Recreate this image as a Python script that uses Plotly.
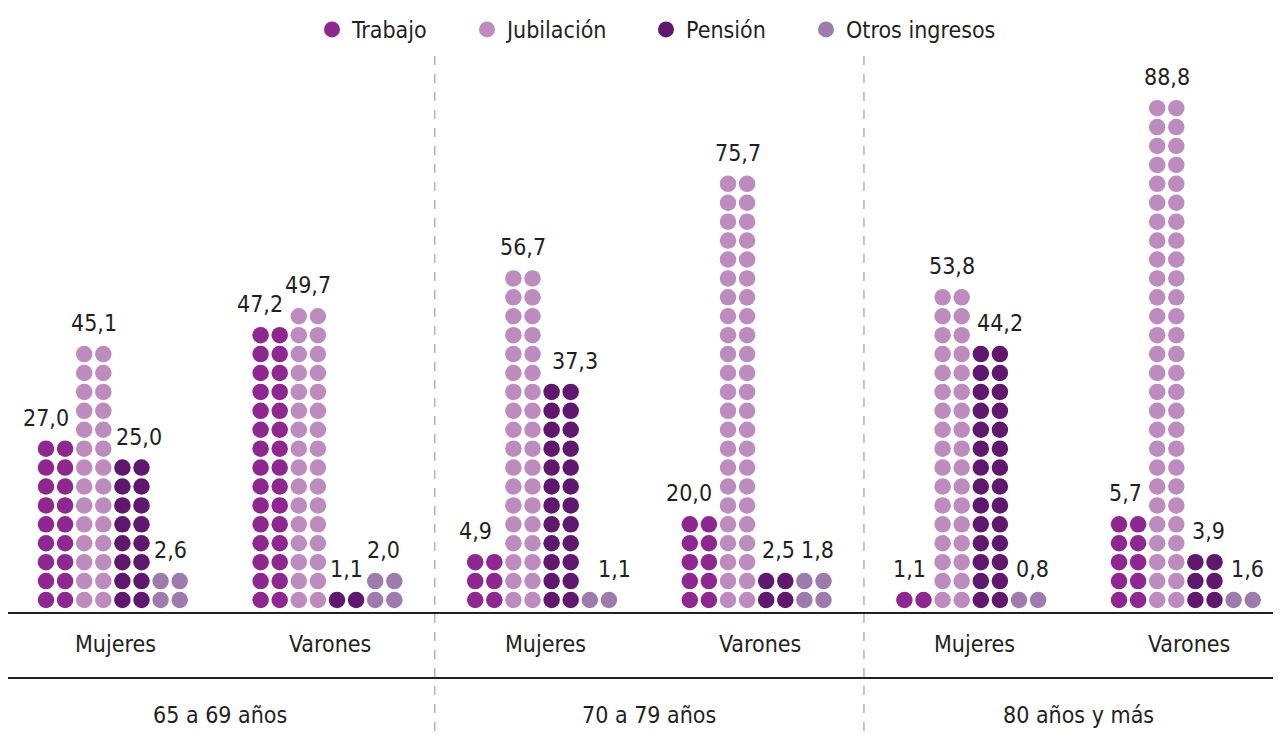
import plotly.graph_objects as go

# ---------------- data ----------------
age_groups = ["65 a 69 años", "70 a 79 años", "80 años y más"]
sexes = ["Mujeres", "Varones"]
series_names = ["Trabajo", "Jubilación", "Pensión", "Otros ingresos"]

# subgroup order: M 65-69, V 65-69, M 70-79, V 70-79, M 80+, V 80+
trabajo = [27.0, 47.2, 4.9, 20.0, 1.1, 5.7]
jubilacion = [45.1, 49.7, 56.7, 75.7, 53.8, 88.8]
pension = [25.0, 1.1, 37.3, 2.5, 44.2, 3.9]
otros = [2.6, 2.0, 1.1, 1.8, 0.8, 1.6]

# number of dot rows drawn for each value
trabajo_rows = [9, 15, 3, 5, 1, 5]
jubilacion_rows = [14, 16, 18, 23, 17, 27]
pension_rows = [8, 1, 12, 2, 14, 3]
otros_rows = [2, 2, 1, 2, 1, 1]

values = [trabajo, jubilacion, pension, otros]
rows = [trabajo_rows, jubilacion_rows, pension_rows, otros_rows]

# ---------------- style ----------------
colors = ["#8E278F", "#BE8BBF", "#5F186E", "#9D7BAD"]
FONT = "Liberation Sans Narrow, Arial Narrow, DejaVu Sans Condensed, sans-serif"
TXT = "#231F20"

OFF = 8                           # page body margin
W, H = 1281 - OFF, 735 - OFF
ML, MR, MT = 0, 0, 0
BASE_PX = 612 - OFF               # baseline pixel (figure coords)
MB = H - BASE_PX
COL_PX = 19.1
ROW_PX = 18.95
GROUP_STEP = 214.6 / COL_PX       # distance between subgroups in column units
X0_PX = 46 - OFF                  # pixel of first dot column
Y0_PX = 600 - OFF                 # pixel of bottom dot row

plot_w = W - ML - MR
plot_h = H - MT - MB
xmin = -(X0_PX - ML) / COL_PX
xmax = xmin + plot_w / COL_PX
ymin = -(BASE_PX - Y0_PX) / ROW_PX
ymax = ymin + plot_h / ROW_PX


def py(screen_y):
    """screen pixel y -> paper y of plot area"""
    return (BASE_PX - (screen_y - OFF)) / plot_h


def px(screen_x):
    return (screen_x - OFF - ML) / plot_w


# label horizontal nudges (px) to mimic the original placement
label_xshift = [
    [-10, -10, -9, -10, -4, -3],
    [0, 0, 0, 0, 0, 0],
    [7, 0, 14, 3, 10, 4],
    [0, -1, 15, 4, 4, 4],
]
legend_text_start = [352, 507, 686, 846]   # screen px where legend text begins

LBL_SIZE = 23

fig = go.Figure()
annotations = []
legend_ids = ["legend", "legend2", "legend3", "legend4"]
for s, name in enumerate(series_names):
    xs, ys = [], []
    for k in range(len(values[s])):
        for r in range(rows[s][k]):
            for c in range(2):
                xs.append(k * GROUP_STEP + 2 * s + c)
                ys.append(r)
        annotations.append(dict(
            x=k * GROUP_STEP + 2 * s + 0.5, y=rows[s][k] - 1,
            text=f"{values[s][k]:.1f}".replace(".", ","),
            showarrow=False, yanchor="bottom", xanchor="center",
            yshift=16, xshift=label_xshift[s][k],
            font=dict(family=FONT, size=LBL_SIZE, color=TXT),
        ))
    fig.add_trace(go.Scatter(
        x=xs, y=ys, mode="markers", name=name, legend=legend_ids[s],
        showlegend=True,
        marker=dict(size=16.5, color=colors[s], line=dict(width=0)),
        hovertemplate=name + "<extra></extra>",
    ))

# category labels
for k in range(6):
    annotations.append(dict(
        x=k * GROUP_STEP + 3.5, y=py(644), yref="paper",
        text=sexes[k % 2], showarrow=False,
        xanchor="center", yanchor="middle", xshift=3,
        font=dict(family=FONT, size=LBL_SIZE, color=TXT),
    ))
for g, lab in enumerate(age_groups):
    annotations.append(dict(
        x=(2 * g + 0.5) * GROUP_STEP + 3.5, y=py(715), yref="paper",
        text=lab, showarrow=False,
        xanchor="center", yanchor="middle",
        font=dict(family=FONT, size=LBL_SIZE, color=TXT),
    ))

shapes = []
# second horizontal rule
shapes.append(dict(type="line", xref="paper", yref="paper", x0=0, x1=1,
                   y0=py(678), y1=py(678),
                   line=dict(color="#231F20", width=2)))
# dashed separators between age groups
for g in (1, 2):
    xsep = ((2 * g - 1) * GROUP_STEP + 7 + 2 * g * GROUP_STEP) / 2
    shapes.append(dict(type="line", xref="x", yref="paper", x0=xsep, x1=xsep,
                       y0=py(55), y1=py(735 + 5),
                       line=dict(color="#B3B3B3", width=1.5, dash="dash")))

legend_common = dict(
    orientation="h", xanchor="left", yanchor="middle", y=py(29),
    font=dict(family=FONT, size=LBL_SIZE, color=TXT),
    itemsizing="trace", bgcolor="rgba(0,0,0,0)", borderwidth=0,
    visible=True,
)
legends = {}
for s, lid in enumerate(legend_ids):
    legends[lid] = dict(legend_common, x=px(legend_text_start[s] - 40))

fig.update_layout(
    width=W, height=H,
    showlegend=True,
    margin=dict(l=ML, r=MR, t=MT, b=MB, pad=0),
    paper_bgcolor="white", plot_bgcolor="white",
    xaxis=dict(range=[xmin, xmax], showgrid=False, zeroline=False,
               showticklabels=False, ticks="", showline=True,
               linecolor="#231F20", linewidth=2, fixedrange=True),
    yaxis=dict(range=[ymin, ymax], showgrid=False, zeroline=False,
               showticklabels=False, ticks="", showline=False, fixedrange=True),
    annotations=annotations,
    shapes=shapes,
    font=dict(family=FONT, color=TXT),
    **legends,
)

fig.write_html("out.html")
